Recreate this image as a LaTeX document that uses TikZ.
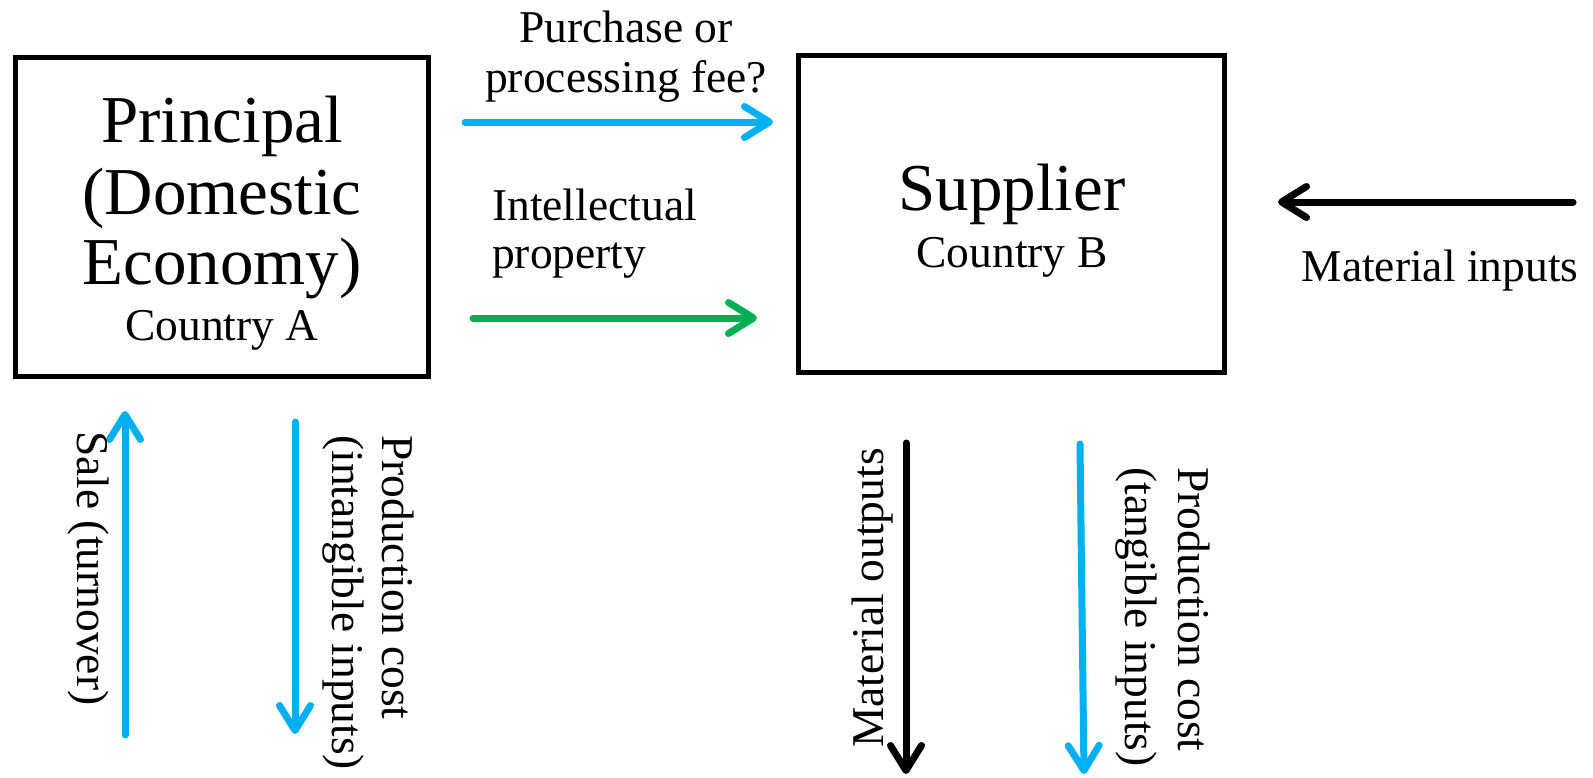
\documentclass[tikz,border=0pt]{standalone}
\usepackage{fontspec}
\setmainfont{Liberation Serif}
\usetikzlibrary{arrows.meta}
\definecolor{flowblue}{HTML}{00B0F0}
\definecolor{flowgreen}{HTML}{00B050}
\begin{document}
\begin{tikzpicture}[x=1pt,y=-1pt,
  box/.style={draw, line width=5pt, inner sep=0pt, outer sep=0pt},
  big/.style={font=\fontsize{67}{70}\selectfont, inner sep=0pt, anchor=base},
  small/.style={font=\fontsize{45.5}{50}\selectfont, inner sep=0pt, anchor=base},
  flow/.style={line width=7pt, line cap=round,
    -{Straight Barb[length=25pt,width=31pt,round]}}]
\useasboundingbox (0,0) rectangle (1593,777);

% the two parties
\node[box, minimum width=413pt, minimum height=319pt] (principal) at (221.5,216.5) {};
\node[box, minimum width=426pt, minimum height=317pt] (supplier) at (1011.5,214) {};

\node[big] (pa) at (222,142) {Principal};
\node[big] (pb) at (222,214) {(Domestic};
\node[big] (pc) at (222,284) {Economy)};
\node[small] (ca) at (222,340) {Country A};

\node[big] (sa) at (1012,210) {Supplier};
\node[small] (cb) at (1012,267) {Country B};

% flows between the parties
\node[small] (fee1) at (626,42) {Purchase or};
\node[small] (fee2) at (626,92) {processing fee?};
\coordinate (feeS) at (465,122);
\coordinate (feeE) at (773,122);
\draw[flow, flowblue] (feeS) -- (feeE);

\node[small, anchor=base west] (ip1) at (492,220) {Intellectual};
\node[small, anchor=base west] (ip2) at (492,268) {property};
\coordinate (ipS) at (473,318);
\coordinate (ipE) at (757,318);
\draw[flow, flowgreen] (ipS) -- (ipE);

% inputs entering the supplier
\coordinate (inS) at (1573,202);
\coordinate (inE) at (1278,202);
\draw[flow, black] (inS) -- (inE);
\node[small] (minp) at (1440,281) {Material inputs};

% flows below the principal
\coordinate (saleS) at (125,735);
\coordinate (saleE) at (125,411);
\draw[flow, flowblue] (saleS) -- (saleE);
\node[small, anchor=base west, rotate=-90] (sale) at (77,431) {Sale (turnover)};

\coordinate (pcaS) at (295,422);
\coordinate (pcaE) at (295,734);
\draw[flow, flowblue] (pcaS) -- (pcaE);
\node[small, anchor=base west, rotate=-90] (pca1) at (382,435) {Production cost};
\node[small, anchor=base west, rotate=-90] (pca2) at (332,435) {(intangible inputs)};

% flows below the supplier
\coordinate (moS) at (906,443);
\coordinate (moE) at (906,774);
\draw[flow, black] (moS) -- (moE);
\node[small, anchor=base west, rotate=90] (mout) at (883,748) {Material outputs};

\coordinate (pcbS) at (1080,444);
\coordinate (pcbE) at (1084,774);
\draw[flow, flowblue] (pcbS) -- (pcbE);
\node[small, anchor=base west, rotate=-90] (pcb1) at (1178,467) {Production cost};
\node[small, anchor=base west, rotate=-90] (pcb2) at (1125,467) {(tangible inputs)};
\end{tikzpicture}
\end{document}
